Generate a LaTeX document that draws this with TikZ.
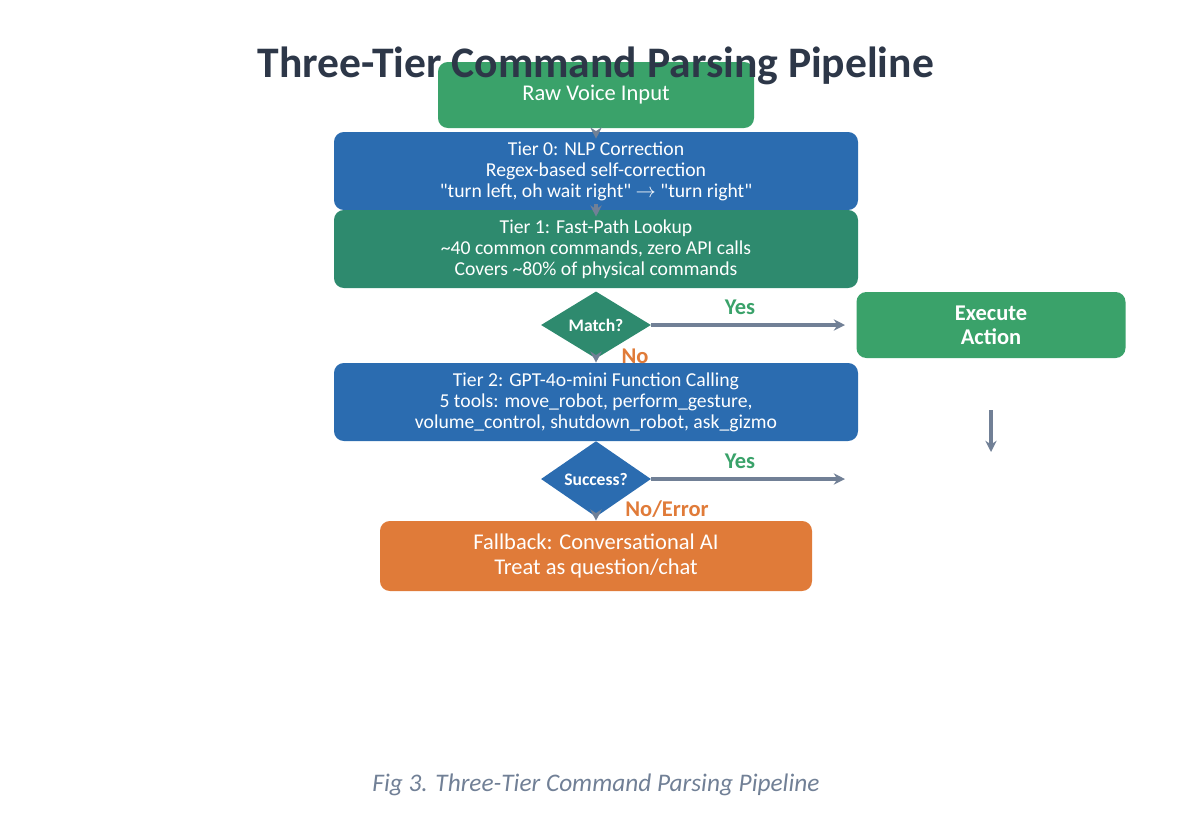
\documentclass[tikz,border=0pt]{standalone}
\usepackage{fontspec}
\setmainfont{Carlito}
\usetikzlibrary{shapes.geometric,arrows.meta}
\definecolor{ttl}{HTML}{2D3748}
\definecolor{gr}{HTML}{3AA26A}
\definecolor{bl}{HTML}{2B6CB0}
\definecolor{tl}{HTML}{2E8A6E}
\definecolor{og}{HTML}{E07B39}
\definecolor{ar}{HTML}{718096}
\tikzset{
  box/.style={rectangle, rounded corners=7pt, text=white, align=center, inner sep=0pt},
  dia/.style={diamond, minimum width=110*0.025cm, minimum height=58*0.025cm, inner sep=0pt, text=white, font=\fontsize{12.5}{14}\selectfont\bfseries},
  link/.style={draw=ar, line width=2.3pt, -{Stealth[length=8pt,width=8pt]}},
}
\begin{document}
\begin{tikzpicture}[x=0.025cm,y=-0.025cm]
\useasboundingbox (0,0) rectangle (1192,838);

\node[box, fill=gr, minimum width=316*0.025cm, minimum height=66*0.025cm, font=\fontsize{16}{18}\selectfont] (raw) at (596,95) {Raw Voice Input};
\node (title) at (596,66) {\fontsize{31}{36}\selectfont\bfseries\color{ttl}Three-Tier Command Parsing Pipeline};
\node[box, fill=bl, minimum width=524*0.025cm, minimum height=78*0.025cm, font=\fontsize{14}{15}\selectfont] (t0) at (596,171) {Tier 0: NLP Correction\\Regex-based self-correction\\\textquotedbl turn left, oh wait right\textquotedbl{} $\rightarrow$ \textquotedbl turn right\textquotedbl};
\node[box, fill=tl, minimum width=524*0.025cm, minimum height=78*0.025cm, font=\fontsize{14}{15}\selectfont] (t1) at (596,249) {Tier 1: Fast-Path Lookup\\\textasciitilde40 common commands, zero API calls\\Covers \textasciitilde80\% of physical commands};
\node[dia, fill=tl] (match) at (596,325) {Match?};
\node[box, fill=gr, minimum width=269*0.025cm, minimum height=66*0.025cm, font=\fontsize{16}{17}\selectfont\bfseries] (exec) at (991,325) {Execute\\Action};
\node[box, fill=bl, minimum width=524*0.025cm, minimum height=78*0.025cm, font=\fontsize{14}{15}\selectfont] (t2) at (596,402) {Tier 2: GPT-4o-mini Function Calling\\5 tools: move\_robot, perform\_gesture,\\volume\_control, shutdown\_robot, ask\_gizmo};
\node[dia, fill=bl] (succ) at (596,479) {Success?};
\node[box, fill=og, minimum width=432*0.025cm, minimum height=70*0.025cm, font=\fontsize{16}{18}\selectfont] (fb) at (596,556) {Fallback: Conversational AI\\Treat as question/chat};

\coordinate (a1) at ([yshift=-6*0.025cm]raw.south);
\coordinate (a2) at ([yshift=-7*0.025cm]t0.north);
\coordinate (b1) at ([yshift=6*0.025cm]t0.south);
\coordinate (b2) at ([yshift=-7*0.025cm]t1.north);
\coordinate (y1) at (845,325);
\coordinate (y2) at (845,479);
\coordinate (d1) at (991,410);
\coordinate (d2) at (991,452);

\draw[link] (a1) -- (a2);
\draw[link] (b1) -- (b2);
\draw[link] (match) -- (t2);
\draw[link] (succ) -- (fb);
\draw[link] (match) -- (y1);
\draw[link] (succ) -- (y2);
\draw[link] (d1) -- (d2);

\node[text=gr, font=\fontsize{16}{18}\selectfont\bfseries] (yes1) at (740,307) {Yes};
\node[text=gr, font=\fontsize{16}{18}\selectfont\bfseries] (yes2) at (740,461) {Yes};
\node[text=og, font=\fontsize{16}{18}\selectfont\bfseries] (no) at (635,356) {No};
\node[text=og, font=\fontsize{16}{18}\selectfont\bfseries] (noerr) at (667,509) {No/Error};

\node[text=ar, font=\fontsize{18}{20}\selectfont\itshape] (cap) at (596,785) {Fig 3. Three-Tier Command Parsing Pipeline};
\end{tikzpicture}
\end{document}
